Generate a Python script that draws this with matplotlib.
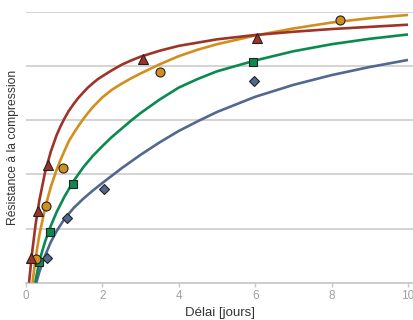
import numpy as np
import matplotlib
matplotlib.use("Agg")
import matplotlib.pyplot as plt

plt.rcParams['font.family'] = ['Liberation Sans', 'DejaVu Sans']

# measured points (delay in days, strength)
red_x = [0.12, 0.31, 0.58, 3.06, 6.05]
red_y = [0.45, 1.33, 2.18, 4.13, 4.52]
orange_x = [0.25, 0.53, 0.96, 3.50, 8.21]
orange_y = [0.44, 1.41, 2.11, 3.88, 4.85]
green_x = [0.35, 0.64, 1.24, 5.95]
green_y = [0.38, 0.93, 1.82, 4.08]
blue_x = [0.56, 1.08, 2.05, 5.98]
blue_y = [0.45, 1.19, 1.72, 3.72]

# fitted curves
red_cx = [0.08, 0.15, 0.25, 0.35, 0.5, 0.65, 0.8, 0.9, 1.0, 1.12, 1.25, 1.37, 1.5, 1.62, 1.75, 1.87, 2.0, 2.25, 2.5, 2.75, 3.0, 3.5, 4.0, 4.5, 5.0, 6.0, 7.0, 8.0, 9.0, 10.0]
red_cy = [0.0, 0.50, 1.07, 1.52, 2.04, 2.42, 2.72, 2.88, 3.02, 3.17, 3.30, 3.41, 3.51, 3.60, 3.68, 3.75, 3.81, 3.92, 4.02, 4.10, 4.17, 4.28, 4.37, 4.43, 4.49, 4.57, 4.63, 4.68, 4.72, 4.76]
orange_cx = [0.17, 0.25, 0.35, 0.5, 0.65, 0.8, 0.9, 1.0, 1.12, 1.25, 1.37, 1.5, 1.62, 1.75, 2.0, 2.25, 2.5, 2.75, 3.0, 3.5, 4.0, 4.5, 5.0, 6.0, 7.0, 8.0, 9.0, 10.0]
orange_cy = [0.0, 0.45, 0.88, 1.38, 1.77, 2.08, 2.26, 2.42, 2.61, 2.76, 2.89, 3.02, 3.13, 3.24, 3.42, 3.56, 3.67, 3.77, 3.86, 4.03, 4.18, 4.30, 4.40, 4.56, 4.69, 4.80, 4.88, 4.94]
green_cx = [0.24, 0.3, 0.4, 0.5, 0.65, 0.8, 1.0, 1.25, 1.5, 1.75, 2.0, 2.25, 2.5, 2.75, 3.0, 3.5, 4.0, 4.5, 5.0, 6.0, 7.0, 8.0, 9.0, 10.0]
green_cy = [0.0, 0.22, 0.52, 0.76, 1.05, 1.30, 1.58, 1.88, 2.13, 2.34, 2.52, 2.69, 2.84, 2.99, 3.13, 3.38, 3.60, 3.76, 3.90, 4.10, 4.27, 4.40, 4.50, 4.58]
blue_cx = [0.27, 0.35, 0.5, 0.65, 0.8, 1.0, 1.25, 1.5, 1.75, 2.0, 2.5, 3.0, 3.5, 4.0, 4.5, 5.0, 6.0, 7.0, 8.0, 9.0, 10.0]
blue_cy = [0.0, 0.20, 0.50, 0.75, 0.95, 1.17, 1.38, 1.55, 1.70, 1.84, 2.11, 2.36, 2.59, 2.80, 2.98, 3.15, 3.43, 3.65, 3.83, 3.98, 4.11]

c_red = '#9e3427'
c_orange = '#d18f1d'
c_green = '#0a8a50'
c_blue = '#526890'

fig = plt.figure(figsize=(4.14, 3.2), dpi=100)
ax = fig.add_axes([26/414, 37.3/320, 388/414, 271/320])

for cx, cy, col in [(blue_cx, blue_cy, c_blue), (green_cx, green_cy, c_green),
                    (orange_cx, orange_cy, c_orange), (red_cx, red_cy, c_red)]:
    ax.plot(cx, cy, color=col, lw=1.9, solid_capstyle='butt', solid_joinstyle='round', zorder=3)

ax.plot(blue_x, blue_y, 'D', ms=4.8, mfc=c_blue, mec='#222222', mew=0.8, ls='none', zorder=4)
ax.plot(green_x, green_y, 's', ms=5.6, mfc=c_green, mec='#222222', mew=0.8, ls='none', zorder=4)
ax.plot(orange_x, orange_y, 'o', ms=6.5, mfc=c_orange, mec='#222222', mew=0.8, ls='none', zorder=4)
ax.plot(red_x, red_y, '^', ms=7.5, mfc=c_red, mec='#222222', mew=0.8, ls='none', zorder=4)

ax.set_xlim(0, 388/38.2)
ax.set_ylim(0, 5)
ax.set_xticks([0, 2, 4, 6, 8, 10])
ax.set_yticks([1, 2, 3, 4, 5])
ax.yaxis.grid(True, color='#d0d0d0', lw=1.3)
ax.set_axisbelow(True)
ax.tick_params(axis='y', left=False, labelleft=False)
ax.tick_params(axis='x', colors='#c8c8c8', length=3, width=1, labelcolor='#a0a0a0', labelsize=8.5, pad=2)
for s in ['top', 'right', 'left']:
    ax.spines[s].set_visible(False)
ax.spines['bottom'].set_color('#c8c8c8')
ax.spines['bottom'].set_linewidth(1.3)

ax.set_xlabel('Délai [jours]', fontsize=9.5, color='#333333', labelpad=4)
ax.set_ylabel('Résistance à la compression', fontsize=8.7, color='#333333', labelpad=5)

fig.savefig('out.png', dpi=100)
